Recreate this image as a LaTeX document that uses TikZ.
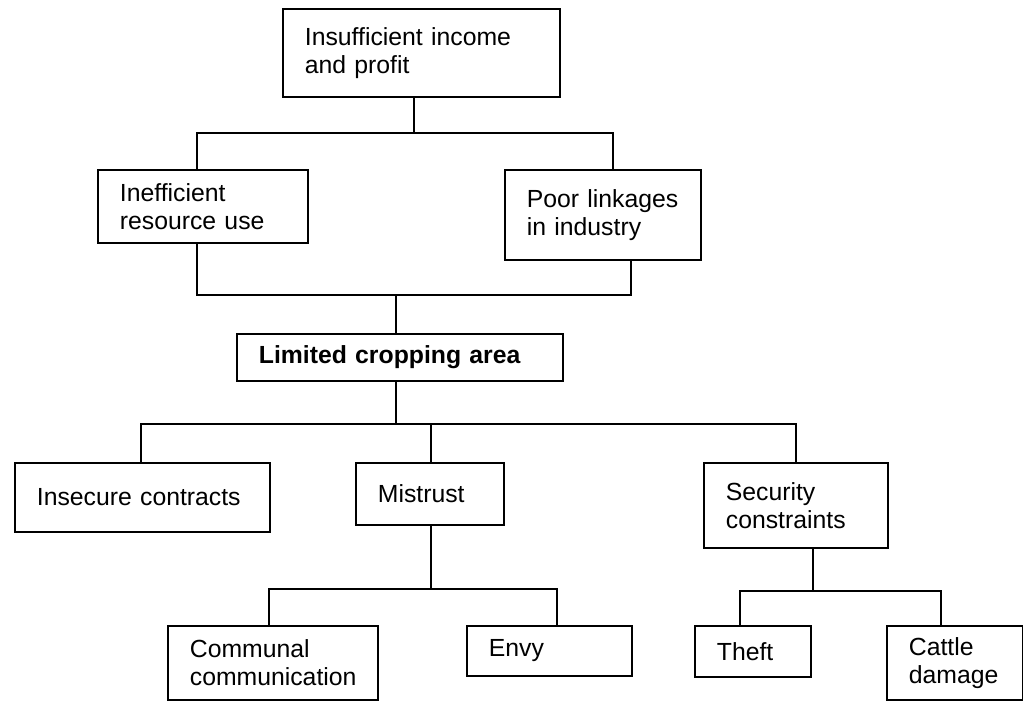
\documentclass[tikz,border=0pt]{standalone}
\usepackage{fontspec}
\setmainfont{Liberation Sans}

\tikzset{
  box/.style 2 args={draw, line width=1pt, anchor=north west, align=left,
    inner xsep=0.44cm, inner ysep=0pt,
    text width=#1*0.02cm-0.88cm, minimum height=#2*0.02cm,
    font=\fontsize{14.1}{16.2}\selectfont},
  link/.style={line width=1pt},
}

\begin{document}
\begin{tikzpicture}[x=0.02cm, y=-0.02cm]
    \useasboundingbox (0,0) rectangle (1023,700);

    % Boxes
    \node[box={277}{88}] (income) at (282,8) {Insufficient income\\and profit};
    \node[box={210}{73}] (ineff) at (97,169) {Inefficient\\resource use};
    \node[box={196}{90}] (poor) at (504,169) {Poor linkages\\in industry};
    \node[box={326}{47}] (limited) at (236,333) {\bfseries Limited cropping area};
    \node[box={255}{69}] (insecure) at (14,462) {Insecure contracts};
    \node[box={148}{62}] (mistrust) at (355,462) {Mistrust};
    \node[box={184}{85}] (security) at (703,462) {Security\\constraints};
    \node[box={210}{74}] (communal) at (167,625) {Communal\\communication};
    \node[box={165}{50}] (envy) at (466,625) {Envy};
    \node[box={116}{51}] (theft) at (694,625) {Theft};
    \node[box={136}{74}] (cattle) at (886,625) {Cattle\\damage};

    % Bus below the income box
    \coordinate (b1) at (414,133);
    \coordinate (b1l) at (197,133);
    \coordinate (b1r) at (613,133);
    \draw[link] (income.south -| b1) -- (b1);
    \draw[link] (ineff.north -| b1l) -- (b1l) -- (b1r) -- (poor.north -| b1r);

    % Bus above the cropping area
    \coordinate (b2) at (396,295);
    \coordinate (b2l) at (197,295);
    \coordinate (b2r) at (631,295);
    \draw[link] (ineff.south -| b2l) -- (b2l) -- (b2r) -- (poor.south -| b2r);
    \draw[link] (b2) -- (limited.north -| b2);

    % Bus below the cropping area
    \coordinate (b3) at (396,424);
    \coordinate (b3l) at (141,424);
    \coordinate (b3m) at (431,424);
    \coordinate (b3r) at (796,424);
    \draw[link] (limited.south -| b3) -- (b3);
    \draw[link] (insecure.north -| b3l) -- (b3l) -- (b3r) -- (security.north -| b3r);
    \draw[link] (b3m) -- (mistrust.north -| b3m);

    % Mistrust
    \coordinate (b4) at (431,589);
    \coordinate (b4l) at (269,589);
    \coordinate (b4r) at (557,589);
    \draw[link] (mistrust.south -| b4) -- (b4);
    \draw[link] (communal.north -| b4l) -- (b4l) -- (b4r) -- (envy.north -| b4r);

    % Security
    \coordinate (b5) at (813,591);
    \coordinate (b5l) at (740,591);
    \coordinate (b5r) at (941,591);
    \draw[link] (security.south -| b5) -- (b5);
    \draw[link] (theft.north -| b5l) -- (b5l) -- (b5r) -- (cattle.north -| b5r);

\end{tikzpicture}
\end{document}
